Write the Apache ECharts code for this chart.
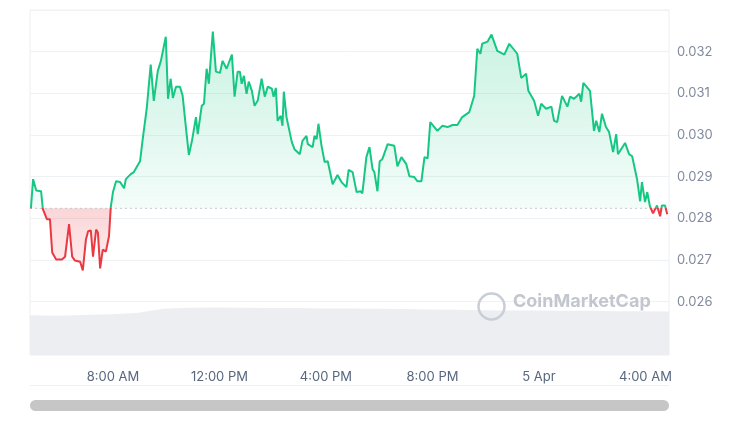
<!DOCTYPE html>
<html><head><meta charset="utf-8">
<script src="https://cdn.jsdelivr.net/npm/echarts@6/dist/echarts.min.js"></script>
<style>html,body{margin:0;padding:0;background:#fff}#c{width:750px;height:421px}</style>
</head><body><div id="c"></div>
<script>
// minutes after 04:53 on 4 Apr
var minutes=[2,7,14,25,29,38,45,50,59,72,79,83,88,95,101,113,119,126,131,137,142,149,153,158,164,171,178,182,187,194,203,212,216,227,234,248,254,263,272,279,288,295,306,311,317,322,329,338,344,351,358,365,369,374,378,387,392,398,403,412,419,428,434,443,455,457,461,468,473,477,482,488,493,500,506,513,522,529,536,545,549,554,558,565,569,572,578,590,596,608,614,623,626,637,641,646,650,657,664,671,682,693,702,713,718,727,736,745,749,758,765,772,776,783,788,794,806,821,828,837,848,855,866,873,882,889,896,902,918,929,941,952,963,974,990,1001,1008,1015,1019,1031,1040,1053,1069,1080,1089,1098,1107,1118,1123,1136,1145,1152,1163,1175,1181,1188,1199,1211,1217,1226,1238,1242,1247,1262,1271,1276,1283,1289,1298,1305,1314,1321,1325,1341,1350,1357,1368,1375,1379,1386,1391,1397,1404,1413,1420,1424,1431,1436];
var prices=[0.02824,0.02894,0.02867,0.02865,0.02822,0.02798,0.02798,0.02718,0.02701,0.02701,0.02708,0.02708,0.02786,0.02708,0.02699,0.02696,0.02675,0.02749,0.02769,0.02771,0.02708,0.02773,0.02766,0.02680,0.02725,0.02720,0.02757,0.02827,0.02863,0.02889,0.02887,0.02872,0.02894,0.02906,0.02911,0.02937,0.02990,0.03063,0.03169,0.03082,0.03154,0.03178,0.03236,0.03087,0.03135,0.03089,0.03116,0.03116,0.03094,0.03022,0.02952,0.02986,0.02986,0.03043,0.03002,0.03070,0.03075,0.03159,0.03123,0.03248,0.03152,0.03149,0.03178,0.03159,0.03193,0.03190,0.03092,0.03152,0.03152,0.03123,0.03142,0.03099,0.03128,0.03106,0.03070,0.03082,0.03135,0.03092,0.03116,0.03111,0.03092,0.03113,0.03034,0.03046,0.03022,0.03104,0.03043,0.02983,0.02966,0.02954,0.02986,0.02998,0.02978,0.02971,0.02998,0.02990,0.03027,0.02974,0.02935,0.02937,0.02882,0.02904,0.02887,0.02875,0.02916,0.02911,0.02863,0.02865,0.02860,0.02947,0.02971,0.02918,0.02911,0.02865,0.02937,0.02942,0.02978,0.02974,0.02925,0.02947,0.02930,0.02901,0.02899,0.02889,0.02889,0.02947,0.02944,0.03031,0.03010,0.03022,0.03019,0.03024,0.03024,0.03043,0.03055,0.03094,0.03207,0.03195,0.03219,0.03224,0.03241,0.03202,0.03193,0.03219,0.03207,0.03195,0.03137,0.03147,0.03106,0.03082,0.03046,0.03075,0.03063,0.03068,0.03034,0.03031,0.03094,0.03068,0.03092,0.03087,0.03099,0.03080,0.03125,0.03106,0.03010,0.03034,0.03007,0.03051,0.03019,0.03007,0.02959,0.03002,0.02954,0.02981,0.02954,0.02949,0.02894,0.02841,0.02887,0.02839,0.02863,0.02829,0.02812,0.02831,0.02805,0.02831,0.02831,0.02810];
var volMinutes=[0,60,120,180,240,300,360,420,480,540,600,660,720,780,840,900,960,1020,1080,1140,1200,1260,1320,1380,1440];
var volumes=[11.5,11.4,11.6,11.8,12.2,13.4,13.7,13.8,13.7,13.6,13.6,13.5,13.5,13.4,13.3,13.2,13.1,13.0,12.9,12.9,12.8,12.8,12.7,12.7,12.6];
var yTicks=[0.026,0.027,0.028,0.029,0.030,0.031,0.032];
var basePrice=0.02824;

var start=new Date(2024,3,4,4,53,0).getTime();
function t(m){return start+m*60000;}
var line=minutes.map(function(m,i){return [t(m),prices[i]];});
var baseLine=[[t(0),basePrice],[t(1440),basePrice]];
var gBase=minutes.map(function(m){return [t(m),basePrice];});
var gTop=minutes.map(function(m,i){return [t(m),Math.max(prices[i],basePrice)-basePrice];});
var rBase=minutes.map(function(m,i){return [t(m),Math.min(prices[i],basePrice)];});
var rTop=minutes.map(function(m,i){return [t(m),basePrice-Math.min(prices[i],basePrice)];});
var vol=volMinutes.map(function(m,i){return [t(m),volumes[i]];});
var xmin=t(0),xmax=t(1440);
var G='#16c784',R='#ea3943';
var chart=echarts.init(document.getElementById('c'));
var hid={showSymbol:false,lineStyle:{width:0,opacity:0},xAxisIndex:0,yAxisIndex:0,silent:true};
function S(o){return Object.assign({type:'line'},hid,o);}
chart.setOption({
 animation:false,
 grid:[{left:30,right:81,top:10,height:375,show:false},{left:30,right:81,top:10,height:345,show:true,borderColor:'#eceef1',borderWidth:1}],
 xAxis:[{type:'time',gridIndex:0,min:xmin,max:xmax,show:false},
  {type:'time',gridIndex:1,min:xmin,max:xmax,interval:4*3600000,axisLine:{show:false},axisTick:{show:false},splitLine:{show:false},
   axisLabel:{color:'#58667e',fontSize:13,fontFamily:'Inter',margin:16,formatter:function(v){var d=new Date(v);var h=d.getHours();if(h===0)return d.getDate()+' Apr';var ap=h<12?'AM':'PM';var hh=h%12;if(hh===0)hh=12;return hh+':00 '+ap;}}}],
 yAxis:[{type:'value',gridIndex:0,position:'right',min:0.024,max:0.033,interval:0.001,axisLine:{show:false},axisTick:{show:false},
   splitLine:{lineStyle:{color:'#eff2f5'}},
   axisLabel:{color:'#808a9d',fontSize:13,fontFamily:'Inter',margin:8,formatter:function(v){var r=Math.round(v*1000)/1000;return yTicks.indexOf(r)>=0?r.toFixed(3):'';}}},
  {type:'value',gridIndex:1,min:0,max:100,show:false}],
 series:[
  {type:'line',data:line,xAxisIndex:0,yAxisIndex:0,showSymbol:false,lineStyle:{width:2,color:G},z:5},
  S({data:gBase,stack:'g',z:2}),
  S({data:gTop,stack:'g',z:2,areaStyle:{color:new echarts.graphic.LinearGradient(0,0,0,1,[{offset:0,color:'rgba(22,199,132,0.32)'},{offset:1,color:'rgba(22,199,132,0.07)'}])}}),
  S({data:rBase,stack:'r',z:2}),
  S({data:rTop,stack:'r',z:2,areaStyle:{color:new echarts.graphic.LinearGradient(0,0,0,1,[{offset:0,color:'rgba(234,57,67,0.3)'},{offset:1,color:'rgba(234,57,67,0.12)'}])}}),
  {type:'line',data:baseLine,xAxisIndex:0,yAxisIndex:0,showSymbol:false,silent:true,z:4,lineStyle:{color:'#c4c8d0',type:[2,3],width:1}},
  {type:'line',data:vol,xAxisIndex:1,yAxisIndex:1,showSymbol:false,lineStyle:{width:0},z:3,
   areaStyle:{color:'#eceef1',opacity:1}}
 ],
 graphic:[
  {type:'circle',left:476,top:291,shape:{r:13},style:{fill:'none',stroke:'#c9ced6',lineWidth:2.5},z:10},
  {type:'text',left:513,top:293,style:{text:'CoinMarketCap',fill:'#c2c7cf',font:'bold 18px Inter'},z:10},
  {type:'rect',shape:{x:30,y:400,width:639,height:11,r:5.5},style:{fill:'#c6c6c6'},z:10}
 ]
});
var py=chart.convertToPixel({yAxisIndex:0},basePrice);
var f=py/421;
chart.setOption({series:[{lineStyle:{color:new echarts.graphic.LinearGradient(0,0,0,421,[{offset:0,color:G},{offset:f,color:G},{offset:f,color:R},{offset:1,color:R}],true)}}]});
</script></body></html>
